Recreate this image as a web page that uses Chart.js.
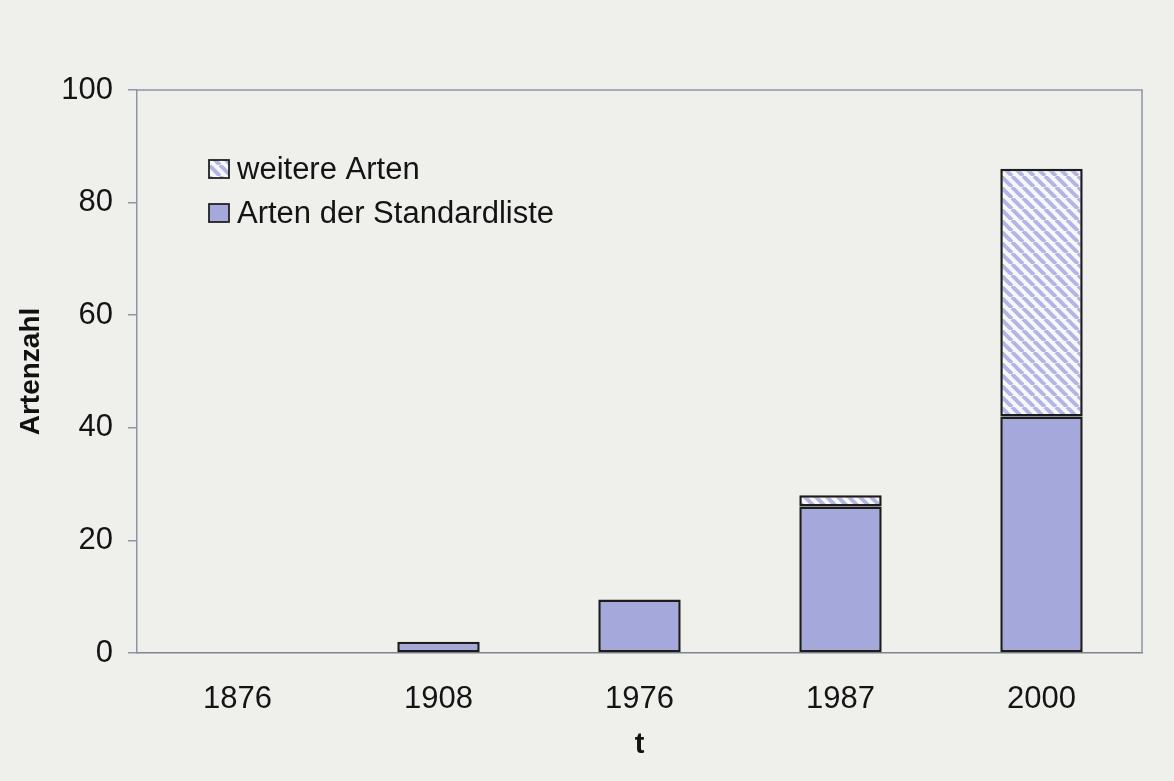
<!DOCTYPE html>
<html>
<head>
<meta charset="utf-8">
<script src="https://cdn.jsdelivr.net/npm/chart.js@4.4.0/dist/chart.umd.min.js"></script>
<style>
  html, body { margin: 0; padding: 0; background: #efefec; }
  #wrap { width: 1174px; height: 781px; position: relative; }
  .fontprobe { position: absolute; left: -9999px; font-family: "Liberation Sans"; }
</style>
</head>
<body>
<div id="wrap"><canvas id="myChart" width="1174" height="781"></canvas></div>
<span class="fontprobe">Artenzahl <b>t</b></span>
<script>
// Artenzahl je Erhebungsjahr
const jahre = ['1876', '1908', '1976', '1987', '2000'];
const standardliste = [0, 2, 9.5, 26, 42];
const weitere = [0, 0, 0, 2, 44];
const yTicks = [0, 20, 40, 60, 80, 100];

const lila = '#a5a8da';
const FAMILY = '"Liberation Sans", Arial, Helvetica, sans-serif';

function makeHatch() {
  const c = document.createElement('canvas');
  c.width = 11; c.height = 11;
  const g = c.getContext('2d');
  g.fillStyle = '#f8f8fc';
  g.fillRect(0, 0, 11, 11);
  g.strokeStyle = '#b3b6e2';
  g.lineWidth = 4;
  g.beginPath();
  // diagonale Streifen von links oben nach rechts unten
  for (let k = -11; k <= 22; k += 11) {
    g.moveTo(k, 0);
    g.lineTo(k + 11, 11);
  }
  g.stroke();
  return g.createPattern(c, 'repeat');
}

// Legende im Diagrammbereich + Rahmen oben/rechts
const innerLegend = {
  id: 'innerLegend',
  afterDraw(chart) {
    const g = chart.ctx;
    const a = chart.chartArea;
    g.save();
    g.strokeStyle = '#8d95a6';
    g.lineWidth = 1.5;
    g.beginPath();
    g.moveTo(a.left, a.top);
    g.lineTo(a.right, a.top);
    g.lineTo(a.right, a.bottom);
    g.stroke();

    const items = chart.data.datasets.slice().reverse();
    let y = 169;
    g.font = '31px ' + FAMILY;
    g.textBaseline = 'middle';
    items.forEach(ds => {
      g.fillStyle = ds.backgroundColor;
      g.fillRect(209, y - 9, 20, 18);
      g.strokeStyle = '#222';
      g.lineWidth = 1.8;
      g.strokeRect(209, y - 9, 20, 18);
      g.fillStyle = '#141414';
      g.fillText(ds.label, 237, y + 1);
      y += 44;
    });
    g.restore();
  }
};

function draw() {
  const ctx = document.getElementById('myChart').getContext('2d');
  const hatch = makeHatch();

  new Chart(ctx, {
    type: 'bar',
    data: {
      labels: jahre,
      datasets: [
        {
          label: 'Arten der Standardliste',
          data: standardliste,
          backgroundColor: lila,
          borderColor: '#1c1c1c',
          borderWidth: c => (c.raw ? 2.5 : 0),
          borderSkipped: false,
          barPercentage: 0.41,
          categoryPercentage: 1
        },
        {
          label: 'weitere Arten',
          data: weitere,
          backgroundColor: hatch,
          borderColor: '#1c1c1c',
          borderWidth: c => (c.raw ? 2.5 : 0),
          borderSkipped: false,
          barPercentage: 0.41,
          categoryPercentage: 1
        }
      ]
    },
    options: {
      responsive: false,
      animation: false,
      layout: { padding: { top: 90, right: 32, left: 0, bottom: 0 } },
      plugins: { legend: { display: false }, tooltip: { enabled: false } },
      scales: {
        x: {
          stacked: true,
          grid: { display: false, drawTicks: false },
          border: { color: '#7f8590', width: 1.5 },
          ticks: {
            color: '#141414',
            padding: 28,
            font: { size: 31, family: FAMILY }
          },
          title: {
            display: true,
            text: 't',
            color: '#111',
            padding: { top: 0, bottom: 19 },
            font: { size: 29, weight: 'bold', family: FAMILY }
          },
          afterFit(scale) { scale.height = 128; }
        },
        y: {
          stacked: true,
          min: 0,
          max: 100,
          afterBuildTicks(scale) { scale.ticks = yTicks.map(v => ({ value: v })); },
          grid: { drawOnChartArea: false, drawTicks: true, tickLength: 9, color: '#8d95a6', lineWidth: 1.5 },
          border: { color: '#8d95a6', width: 1.5 },
          ticks: {
            color: '#141414',
            padding: 15,
            font: { size: 31, family: FAMILY }
          },
          title: {
            display: true,
            text: 'Artenzahl',
            color: '#111',
            padding: { top: 14, bottom: 0 },
            font: { size: 28, weight: 'bold', family: FAMILY }
          },
          afterFit(scale) { scale.width = 137; }
        }
      }
    },
    plugins: [innerLegend]
  });
}

Promise.all([
  document.fonts.load('31px "Liberation Sans"'),
  document.fonts.load('bold 28px "Liberation Sans"')
]).then(draw, draw);
</script>
</body>
</html>
